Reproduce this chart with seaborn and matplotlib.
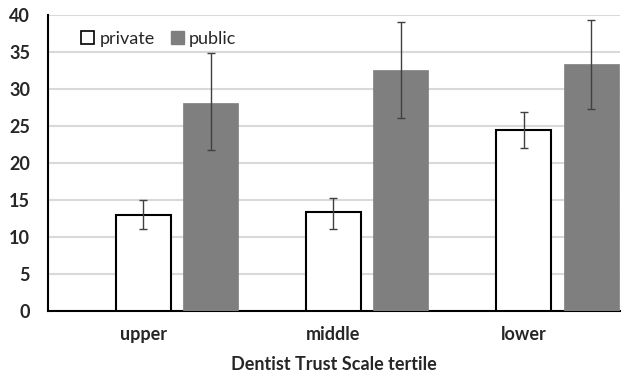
import pandas as pd
import matplotlib
matplotlib.use("Agg")
import matplotlib.pyplot as plt
import seaborn as sns
import numpy as np
from matplotlib.patches import Patch

# data
tertiles = ['upper', 'middle', 'lower']
sectors = ['private', 'public']
private_mean = [13.0, 13.3, 24.5]
private_lo = [11.0, 11.1, 22.0]
private_hi = [15.0, 15.2, 26.9]
public_mean = [28.1, 32.5, 33.3]
public_lo = [21.7, 26.0, 27.3]
public_hi = [34.9, 39.0, 39.3]

df = pd.DataFrame({
    'tertile': tertiles * 2,
    'sector': ['private'] * 3 + ['public'] * 3,
    'value': private_mean + public_mean,
    'lo': private_lo + public_lo,
    'hi': private_hi + public_hi,
})

sns.set_style('white')
plt.rcParams['font.family'] = ['Lato', 'DejaVu Sans']

fig = plt.figure(figsize=(6.24, 3.8), dpi=100)
ax = fig.add_axes([0.077, 0.182, 0.917, 0.779])

palette = {'private': 'white', 'public': '#7f7f7f'}
sns.barplot(data=df, x='tertile', y='value', hue='sector', order=tertiles,
            hue_order=sectors, palette=palette, width=0.708, gap=0.18,
            errorbar=None, legend=False, ax=ax, zorder=3)

# edges: private bars outlined black, public no outline
for bars, sec in zip(ax.containers, sectors):
    for b in bars:
        if sec == 'private':
            b.set_edgecolor('black')
            b.set_linewidth(1.5)
        else:
            b.set_edgecolor('#7f7f7f')
            b.set_linewidth(0.5)

# error bars from bar centres
for bars, sec in zip(ax.containers, sectors):
    sub = df[df['sector'] == sec].set_index('tertile').loc[tertiles]
    xs = [b.get_x() + b.get_width() / 2 for b in bars]
    yerr = np.array([sub['value'] - sub['lo'], sub['hi'] - sub['value']])
    ax.errorbar(xs, sub['value'], yerr=yerr, fmt='none', ecolor='#404040',
                elinewidth=1.0, capsize=3, capthick=1.0, zorder=4)

# category labels sit under the private bar
ax.set_xticks([b.get_x() + b.get_width() / 2 for b in ax.containers[0]])
ax.set_xticklabels(tertiles, fontsize=13, fontweight='bold')
ax.set_xlim(-0.677, 2.33)
ax.set_ylim(0, 40)
ax.set_yticks(range(0, 41, 5))
ax.tick_params(axis='y', labelsize=13, length=0, pad=13)
ax.tick_params(axis='x', length=0, pad=11)
for lab in ax.get_yticklabels():
    lab.set_fontweight('bold')

ax.yaxis.grid(True, color='#d9d9d9', linewidth=1.5, zorder=0)
ax.set_axisbelow(True)
for s in ['top', 'right']:
    ax.spines[s].set_visible(False)
ax.spines['left'].set_color('black')
ax.spines['left'].set_linewidth(1.5)
ax.spines['bottom'].set_color('black')
ax.spines['bottom'].set_linewidth(1.5)

ax.set_xlabel('Dentist Trust Scale tertile', fontsize=13, fontweight='bold', labelpad=9)
ax.set_ylabel('')

handles = [Patch(facecolor='white', edgecolor='black', linewidth=1.2, label='private'),
           Patch(facecolor='#7f7f7f', edgecolor='#7f7f7f', label='public')]
ax.legend(handles=handles, loc='upper left', bbox_to_anchor=(0.03, 1.0), ncol=2,
          frameon=False, fontsize=13, handlelength=0.7, handleheight=0.7,
          handletextpad=0.3, columnspacing=0.9)

plt.savefig('out.png', dpi=100)
